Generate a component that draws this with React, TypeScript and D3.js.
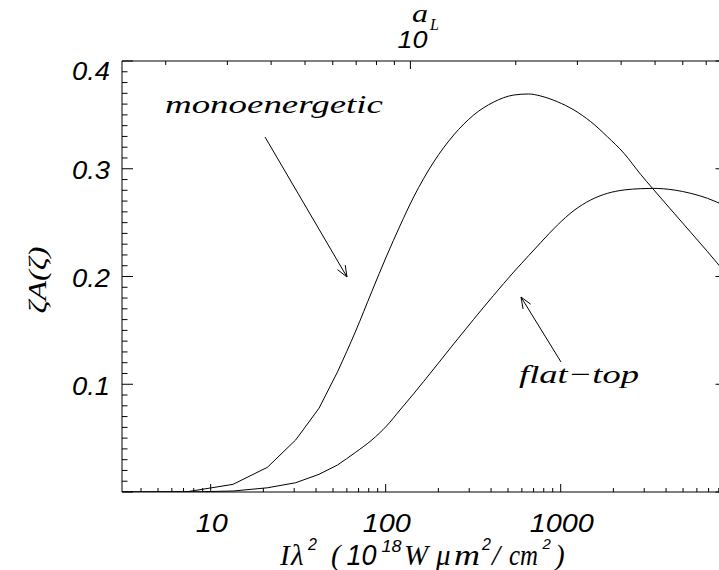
import React from "react";
import * as d3 from "d3";

// Iλ² (10^18 W µm²/cm²) sample positions and ζA(ζ) values
const monoX = [3.114, 7.37, 13.41, 21.09, 30.6, 41.58, 53.1, 67.4, 83.4, 101.2, 120.7, 144.5, 188.1, 244.7, 318.3, 414.1, 538.7, 656.3, 768.9, 957.4, 1191, 1484, 1849, 2300, 2865, 3342, 4440, 5533, 6891, 8858];
const monoY = [0.0, 0.0003, 0.0071, 0.0229, 0.0483, 0.0777, 0.1116, 0.1494, 0.1862, 0.219, 0.247, 0.2738, 0.3063, 0.3313, 0.3499, 0.3619, 0.3684, 0.3694, 0.3675, 0.3622, 0.3545, 0.3437, 0.3297, 0.3143, 0.2947, 0.2819, 0.2588, 0.241, 0.2232, 0.202];

const flatX = monoX;
const flatY = [0.0, 0.0, 0.0009, 0.0039, 0.0086, 0.0164, 0.0251, 0.0369, 0.0483, 0.0613, 0.0761, 0.0912, 0.1142, 0.1374, 0.1603, 0.1826, 0.2041, 0.2194, 0.2315, 0.2477, 0.2613, 0.271, 0.2772, 0.2803, 0.2815, 0.2818, 0.2803, 0.2772, 0.2726, 0.265];

const aLDomain = [1.5, 80];
const yDomain = [0, 0.4];
const yLabelValues = [0.1, 0.2, 0.3, 0.4];
const xLabelValues = [10, 100, 1000];
const topLabelValues = [10];

const M = { left: 122, right: 726.5, top: 61, bottom: 492 };

const sansIt = { fontFamily: "'Liberation Sans', Arial, sans-serif", fontStyle: "italic" as const };
const serifIt = { fontFamily: "'Liberation Serif', 'Times New Roman', serif", fontStyle: "italic" as const };

function Arrow({ x1, y1, x2, y2 }: { x1: number; y1: number; x2: number; y2: number }) {
  const ang = Math.atan2(y2 - y1, x2 - x1);
  const L = 12;
  const spread = 0.38;
  const a1 = ang + Math.PI - spread;
  const a2 = ang + Math.PI + spread;
  return (
    <g stroke="#000" strokeWidth={1} fill="none">
      <line x1={x1} y1={y1} x2={x2} y2={y2} />
      <line x1={x2} y1={y2} x2={x2 + L * Math.cos(a1)} y2={y2 + L * Math.sin(a1)} />
      <line x1={x2} y1={y2} x2={x2 + L * Math.cos(a2)} y2={y2 + L * Math.sin(a2)} />
    </g>
  );
}

export default function App() {
  const xDomain = [Math.pow(aLDomain[0] / 0.85, 2), Math.pow(aLDomain[1] / 0.85, 2)];
  const x = d3.scaleLog().domain(xDomain).range([M.left, M.right]);
  const xTop = d3.scaleLog().domain(aLDomain).range([M.left, M.right]);
  const y = d3.scaleLinear().domain(yDomain).range([M.bottom, M.top]);

  const xTicks = x.ticks().filter((t) => t >= xDomain[0] && t <= xDomain[1]);
  const topTicks = xTop.ticks().filter((t) => t >= aLDomain[0] && t <= aLDomain[1]);
  const yMinor = d3.range(0, 41).map((i) => i / 100);
  const isMajorLog = (t: number) => Math.abs(Math.log10(t) - Math.round(Math.log10(t))) < 1e-9;
  const isMajorY = (t: number) => Math.abs(t * 10 - Math.round(t * 10)) < 1e-9;

  const split = 6;
  const mkPaths = (xs: number[], ys: number[]) => {
    const pts: [number, number][] = xs.map((v, i) => [x(v), y(ys[i])]);
    const lo = d3.line().curve(d3.curveLinear)(pts.slice(0, split + 1)) || "";
    const hi = d3.line().curve(d3.curveMonotoneX)(pts.slice(split)) || "";
    return [lo, hi];
  };
  const monoPaths = mkPaths(monoX, monoY);
  const flatPaths = mkPaths(flatX, flatY);

  const W = 719, H = 570;
  return (
    <svg width={W} height={H} style={{ position: "absolute", left: 0, top: 0, background: "#fff" }}>
      <defs>
        <clipPath id="plot">
          <rect x={M.left} y={M.top} width={M.right - M.left} height={M.bottom - M.top} />
        </clipPath>
      </defs>
      <rect x={0} y={0} width={W} height={H} fill="#fff" />
      {/* frame */}
      <g stroke="#000" strokeWidth={1} fill="none">
        <line x1={M.left} y1={M.bottom} x2={M.right} y2={M.bottom} />
        <line x1={M.left} y1={M.top} x2={M.right} y2={M.top} />
        <line x1={M.left} y1={M.top} x2={M.left} y2={M.bottom} />
        <line x1={M.right} y1={M.top} x2={M.right} y2={M.bottom} />
      </g>
      {/* ticks */}
      <g stroke="#000" strokeWidth={1}>
        {xTicks.map((t) => {
          const len = isMajorLog(t) ? 8 : 4;
          return <line key={"b" + t} x1={x(t)} x2={x(t)} y1={M.bottom} y2={M.bottom - len} />;
        })}
        {topTicks.map((t) => {
          const len = isMajorLog(t) ? 8 : 4;
          return <line key={"t" + t} x1={xTop(t)} x2={xTop(t)} y1={M.top} y2={M.top + len} />;
        })}
        {yMinor.map((t) => {
          const len = isMajorY(t) ? 11 : 5.5;
          return (
            <g key={"y" + t}>
              <line x1={M.left} x2={M.left + len} y1={y(t)} y2={y(t)} />
              <line x1={M.right} x2={M.right - len} y1={y(t)} y2={y(t)} />
            </g>
          );
        })}
      </g>
      {/* y tick labels */}
      {yLabelValues.map((v) => (
        <text
          key={"yl" + v}
          x={110}
          y={Math.max(y(v), 69) + 10.5}
          textAnchor="end"
          fontSize={25}
          textLength={38}
          lengthAdjust="spacingAndGlyphs"
          style={sansIt}
        >
          {v.toFixed(1)}
        </text>
      ))}
      {/* x tick labels */}
      {xLabelValues.map((v) => {
        const s = String(v);
        return (
          <text
            key={"xl" + v}
            x={x(v) + 1}
            y={531.5}
            textAnchor="middle"
            fontSize={25}
            textLength={s.length * 16}
            lengthAdjust="spacingAndGlyphs"
            style={sansIt}
          >
            {s}
          </text>
        );
      })}
      {/* top tick labels */}
      {topLabelValues.map((v) => (
        <text
          key={"tl" + v}
          x={xTop(v) + 2}
          y={48.3}
          textAnchor="middle"
          fontSize={24}
          textLength={30}
          lengthAdjust="spacingAndGlyphs"
          style={sansIt}
        >
          {String(v)}
        </text>
      ))}
      {/* top axis title a_L */}
      <text x={412} y={21.7} fontSize={26} textLength={16} lengthAdjust="spacingAndGlyphs" style={serifIt}>a</text>
      <text x={430} y={30} fontSize={16} style={serifIt}>L</text>

      {/* curves */}
      <g clipPath="url(#plot)" fill="none" stroke="#000" strokeWidth={1}>
        <path d={monoPaths[0]} />
        <path d={monoPaths[1]} />
        <path d={flatPaths[0]} />
        <path d={flatPaths[1]} />
      </g>

      {/* annotations */}
      <text x={165} y={113} fontSize={26} textLength={218} lengthAdjust="spacingAndGlyphs" style={serifIt}>
        monoenergetic
      </text>
      <Arrow x1={265} y1={137} x2={347} y2={277} />
      <text x={519} y={383} fontSize={26} textLength={120} lengthAdjust="spacingAndGlyphs" style={serifIt}>
        flat−top
      </text>
      <Arrow x1={561} y1={362} x2={521} y2={297} />

      {/* y axis title */}
      <text
        transform="translate(46,280) rotate(-90)"
        textAnchor="middle"
        fontSize={26}
        textLength={67}
        lengthAdjust="spacingAndGlyphs"
        style={serifIt}
      >
        ζA(ζ)
      </text>

      {/* x axis title */}
      <g>
        <text x={280} y={565} fontSize={29} style={serifIt}>I</text>
        <text x={291} y={565} fontSize={29} style={serifIt}>λ</text>
        <text x={308} y={550} fontSize={16} style={sansIt}>2</text>
        <text x={331} y={565} fontSize={29} style={serifIt}>(</text>
        <text x={346.5} y={565} fontSize={29} textLength={30} lengthAdjust="spacingAndGlyphs" style={sansIt}>10</text>
        <text x={381.5} y={551.5} fontSize={16} textLength={20} lengthAdjust="spacingAndGlyphs" style={sansIt}>18</text>
        <text x={404} y={565} fontSize={29} style={serifIt}>W</text>
        <text x={436} y={565} fontSize={29} style={serifIt}>μ</text>
        <text x={454} y={565} fontSize={29} textLength={26} lengthAdjust="spacingAndGlyphs" style={serifIt}>m</text>
        <text x={482} y={550} fontSize={16} style={sansIt}>2</text>
        <text x={492} y={565} fontSize={29} style={serifIt}>/</text>
        <text x={509} y={565} fontSize={29} textLength={29} lengthAdjust="spacingAndGlyphs" style={serifIt}>cm</text>
        <text x={542.5} y={549} fontSize={15} style={sansIt}>2</text>
        <text x={555} y={565} fontSize={29} style={serifIt}>)</text>
      </g>
    </svg>
  );
}
